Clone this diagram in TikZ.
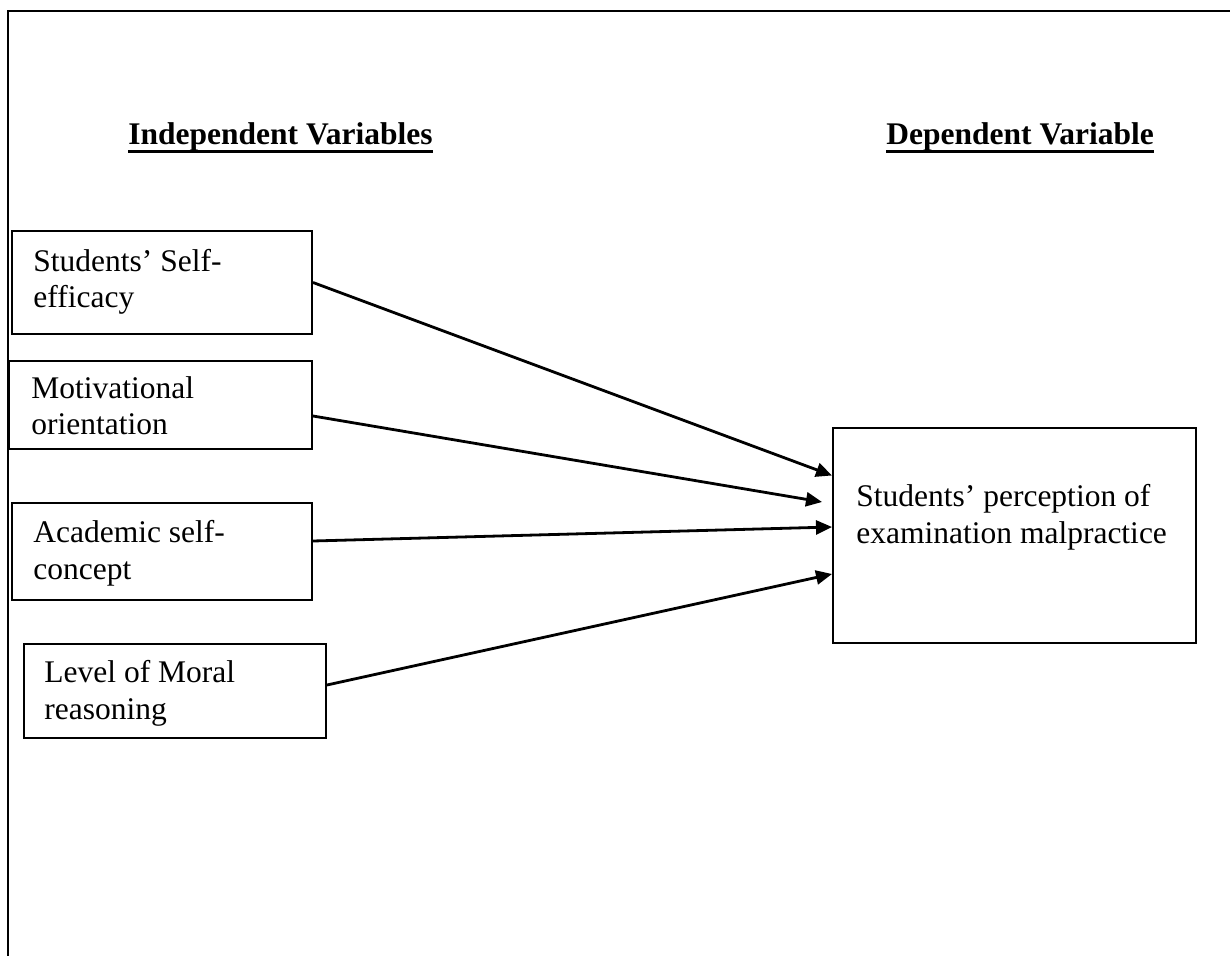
\documentclass[tikz,border=0pt]{standalone}
\usepackage{fontspec}
\setmainfont{Liberation Serif}
\usetikzlibrary{arrows.meta,calc}
\begin{document}
\begin{tikzpicture}[x=0.5pt,y=-0.5pt,
  box/.style={draw,line width=1pt,inner sep=0pt},
  lbl/.style={anchor=base west,inner sep=0pt,align=left,
    font=\fontsize{15.75}{18.1}\selectfont},
  head/.style={anchor=base west,inner sep=0pt,
    font=\fontsize{15.75}{18.1}\selectfont\bfseries},
  uline/.style={line width=1.7pt},
  arr/.style={line width=1.4pt,-{Triangle[length=8pt,width=7pt]}},
  frame/.style={line width=1.2pt}]
\useasboundingbox (0,0) rectangle (1230,956);
% frame
\coordinate (fa) at (8,956);
\coordinate (fb) at (8,11);
\coordinate (fc) at (1230,11);
\draw[frame] (fa) -- (fb) -- (fc);
% headings
\node[head] (h1) at (128,145) {Independent Variables};
\node[head] (h2) at (886,145) {Dependent Variable};
\draw[uline] ([yshift=-3.3pt]h1.base west) -- ([yshift=-3.3pt]h1.base east);
\draw[uline] ([yshift=-3.3pt]h2.base west) -- ([yshift=-3.3pt]h2.base east);
% boxes
\node[box,minimum width=150pt,minimum height=51.5pt] (b1) at (162,282.5) {};
\node[box,minimum width=151.5pt,minimum height=44pt] (b2) at (160.5,405) {};
\node[box,minimum width=150pt,minimum height=48.5pt] (b3) at (162,551.5) {};
\node[box,minimum width=151pt,minimum height=47pt] (b4) at (175,691) {};
\node[box,minimum width=181.5pt,minimum height=107.5pt] (t) at (1014.5,535.5) {};
% texts (anchor = baseline of last line)
\node[lbl] (l1) at (33,308) {Students’ Self-\\efficacy};
\node[lbl] (l2) at (31,435) {Motivational\\orientation};
\node[lbl] (l3) at (33,579) {Academic self-\\concept};
\node[lbl] (l4) at (44,719) {Level of Moral\\reasoning};
\node[lbl] (lt) at (856,543) {Students’ perception of\\examination malpractice};
% arrows
\draw[arr] (b1.east) -- ([yshift=30pt]t.west);
\draw[arr] ([yshift=-5.5pt]b2.east) -- ([xshift=-5pt,yshift=16.75pt]t.west);
\draw[arr] ([yshift=5.25pt]b3.east) -- ([yshift=4.25pt]t.west);
\draw[arr] ([yshift=3pt]b4.east) -- ([yshift=-19.25pt]t.west);
\end{tikzpicture}
\end{document}
